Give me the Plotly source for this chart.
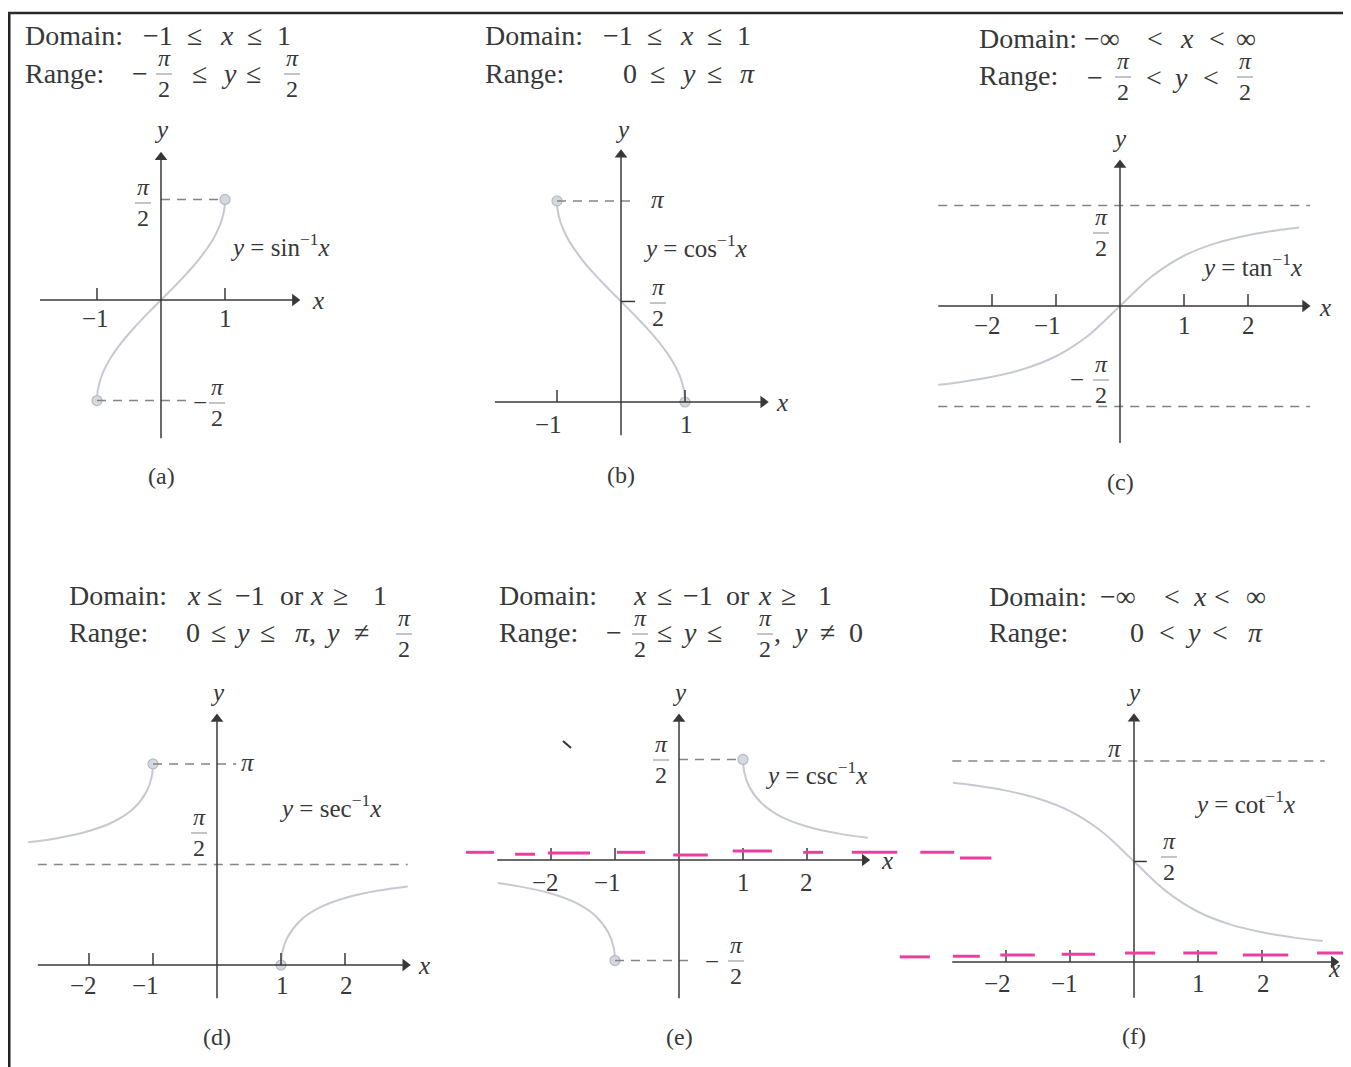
import plotly.graph_objects as go

W, H = 1351, 1067
OFF = 8    # page margin the browser puts round the figure
FW, FH = W - OFF, H - OFF
U = 64.0   # pixels per unit on every panel

# ---- curve samples ----
asin_x = [-1, -0.99, -0.95, -0.9, -0.8, -0.6, -0.4, -0.2, 0, 0.2, 0.4, 0.6, 0.8, 0.9, 0.95, 0.99, 1]
asin_y = [-1.571, -1.429, -1.253, -1.120, -0.927, -0.644, -0.412, -0.201, 0, 0.201, 0.412, 0.644, 0.927, 1.120, 1.253, 1.429, 1.571]

acos_x = [-1, -0.99, -0.95, -0.9, -0.8, -0.6, -0.4, -0.2, 0, 0.2, 0.4, 0.6, 0.8, 0.9, 0.95, 0.99, 1]
acos_y = [3.142, 3.0, 2.824, 2.691, 2.498, 2.214, 1.982, 1.772, 1.571, 1.369, 1.159, 0.927, 0.644, 0.451, 0.318, 0.142, 0]

atan_x = [-2.84, -2.5, -2, -1.5, -1, -0.5, 0, 0.5, 1, 1.5, 2, 2.5, 2.8]
atan_y = [-1.232, -1.190, -1.107, -0.983, -0.785, -0.464, 0, 0.464, 0.785, 0.983, 1.107, 1.190, 1.228]

asec_lx = [-2.95, -2.5, -2, -1.6, -1.3, -1.1, -1.02, -1]
asec_ly = [1.917, 1.982, 2.094, 2.246, 2.448, 2.711, 2.943, 3.142]
asec_rx = [1, 1.02, 1.1, 1.3, 1.6, 2, 2.5, 2.98]
asec_ry = [0, 0.199, 0.430, 0.693, 0.896, 1.047, 1.159, 1.228]

acsc_rx = [1, 1.02, 1.1, 1.3, 1.6, 2, 2.5, 2.95]
acsc_ry = [1.571, 1.372, 1.141, 0.878, 0.675, 0.524, 0.412, 0.346]
acsc_lx = [-2.83, -2.5, -2, -1.6, -1.3, -1.1, -1.02, -1]
acsc_ly = [-0.361, -0.412, -0.524, -0.675, -0.878, -1.141, -1.372, -1.571]

acot_x = [-2.83, -2.5, -2, -1.5, -1, -0.5, 0, 0.5, 1, 1.5, 2, 2.5, 2.95]
acot_y = [2.80, 2.761, 2.678, 2.554, 2.356, 2.034, 1.571, 1.107, 0.785, 0.588, 0.464, 0.381, 0.327]

# tick positions
ticks_a = [-1, 1]
ticks_b = [-1, 1]
ticks_c = [-2, -1, 1, 2]
ticks_d = [-2, -1, 1, 2]
ticks_e = [-2, -1, 1, 2]
ticks_f = [-2, -1, 1, 2]

# pink hand-drawn marks (panel e units, panel f units)
pink_e_x0 = [-3.33, -2.56, -2.05, -0.97, -0.09, 0.84, 1.94, 2.70, 3.77, 4.39]
pink_e_x1 = [-2.89, -2.25, -1.39, -0.53, 0.45, 1.45, 2.25, 3.41, 4.30, 4.88]
pink_e_y = [0.12, 0.09, 0.11, 0.12, 0.08, 0.14, 0.12, 0.12, 0.12, 0.03]
pink_f_x0 = [-3.66, -2.83, -2.09, -1.13, -0.14, 0.77, 1.70, 2.86]
pink_f_x1 = [-3.19, -2.41, -1.55, -0.61, 0.33, 1.30, 2.41, 3.39]
pink_f_y = [0.08, 0.09, 0.11, 0.12, 0.14, 0.14, 0.11, 0.14]

INK = "#383838"
CURVE = "#c6c9d0"
DASH = "#858585"
PINK = "#ec3ea0"
FONT = "Liberation Serif"

# panel origins in page pixels
origins = {"a": (161, 300), "b": (621, 402), "c": (1120, 306),
           "d": (217, 965), "e": (679, 860), "f": (1134, 962)}
names = ["a", "b", "c", "d", "e", "f"]

fig = go.Figure()
layout = dict(width=FW, height=FH, margin=dict(l=0, r=0, t=0, b=0),
              paper_bgcolor="white", plot_bgcolor="white", showlegend=False)
ax = {}
for k, n in enumerate(names, start=1):
    ox, oy = origins[n]
    sx = "" if k == 1 else str(k)
    xa = dict(range=[-(ox - OFF) / U, (W - ox) / U], visible=False, fixedrange=True,
              domain=[0, 1], anchor="y" + sx)
    ya = dict(range=[-(H - oy) / U, (oy - OFF) / U], visible=False, fixedrange=True,
              domain=[0, 1], anchor="x" + sx)
    if k > 1:
        xa["overlaying"] = "x"
        ya["overlaying"] = "y"
    layout["xaxis" + sx] = xa
    layout["yaxis" + sx] = ya
    ax[n] = ("x" + sx, "y" + sx)
fig.update_layout(**layout)

shapes = []
annotations = []


def PX(px):
    return (px - OFF) / FW


def PY(py):
    return 1 - (py - OFF) / FH


def curve(n, xs, ys):
    fig.add_trace(go.Scatter(x=xs, y=ys, mode="lines", line=dict(color=CURVE, width=2, shape="spline"),
                             xaxis=ax[n][0], yaxis=ax[n][1], hoverinfo="skip"))


def dots(n, xs, ys):
    fig.add_trace(go.Scatter(x=xs, y=ys, mode="markers",
                             marker=dict(size=10, color="#d5d8de", line=dict(color="#b6bac3", width=1.2)),
                             xaxis=ax[n][0], yaxis=ax[n][1], hoverinfo="skip"))


def seg(n, x0, y0, x1, y1, color=INK, width=1.6, dash=None):
    line = dict(color=color, width=width)
    if dash:
        line["dash"] = dash
    shapes.append(dict(type="line", xref=ax[n][0], yref=ax[n][1], x0=x0, y0=y0, x1=x1, y1=y1, line=line))


def axes(n, xlo, xhi, ylo, yhi, ticks):
    seg(n, xlo, 0, xhi - 4 / U, 0, width=1.5)
    seg(n, 0, ylo, 0, yhi - 4 / U, width=1.5)
    fig.add_trace(go.Scatter(x=[xhi - 5 / U, 0], y=[0, yhi - 5 / U], mode="markers",
                             marker=dict(symbol=["triangle-right", "triangle-up"], size=11, color=INK,
                                         line=dict(width=0)),
                             xaxis=ax[n][0], yaxis=ax[n][1], hoverinfo="skip"))
    for t in ticks:
        seg(n, t, 0, t, 12 / U, width=1.5)


def T(s, px, py, size=26, xanchor="center", color=INK):
    annotations.append(dict(xref="paper", yref="paper", x=PX(px), y=PY(py), text=s, showarrow=False,
                            xanchor=xanchor, yanchor="middle",
                            font=dict(family=FONT, size=size, color=color)))


def frac(px, py, size=24):
    # pi above, 2 below, with a short bar between
    T("<i>π</i>", px, py - 15, size)
    T("2", px, py + 16, size)
    shapes.append(dict(type="line", xref="paper", yref="paper", x0=PX(px - 8), x1=PX(px + 8),
                       y0=PY(py + 1), y1=PY(py + 1), line=dict(color="#8a8a8a", width=1)))


def row(tokens, py, size=28):
    for s, px in tokens:
        T(s, px, py, size)


DASHP = "9px,7px"
PI = 3.1416
HP = 1.5708

# ---------- (a) ----------
curve("a", asin_x, asin_y)
seg("a", 0, HP, 1, HP, DASH, 1.5, DASHP)
seg("a", -1, -HP, 0.45, -HP, DASH, 1.5, DASHP)
dots("a", [asin_x[0], asin_x[-1]], [asin_y[0], asin_y[-1]])
axes("a", -1.89, 2.17, -2.16, 2.31, ticks_a)

# ---------- (b) ----------
curve("b", acos_x, acos_y)
seg("b", -1, PI, 0.22, PI, DASH, 1.5, DASHP)
seg("b", 0, HP, 0.22, HP, INK, 1.5)
dots("b", [acos_x[0], acos_x[-1]], [acos_y[0], acos_y[-1]])
axes("b", -1.97, 2.30, -0.52, 3.94, ticks_b)

# ---------- (c) ----------
seg("c", -2.84, HP, 2.97, HP, DASH, 1.5, DASHP)
seg("c", -2.84, -HP, 2.97, -HP, DASH, 1.5, DASHP)
curve("c", atan_x, atan_y)
axes("c", -2.84, 2.97, -2.14, 2.28, ticks_c)

# ---------- (d) ----------
seg("d", -2.8, HP, 2.98, HP, DASH, 1.5, DASHP)
seg("d", -1, PI, 0.3, PI, DASH, 1.5, DASHP)
curve("d", asec_lx, asec_ly)
curve("d", asec_rx, asec_ry)
dots("d", [asec_lx[-1], asec_rx[0]], [asec_ly[-1], asec_ry[0]])
axes("d", -2.8, 3.02, -0.52, 3.92, ticks_d)

# ---------- (e) ----------
seg("e", 0, HP, 1, HP, DASH, 1.5, DASHP)
seg("e", -1, -HP, 0.2, -HP, DASH, 1.5, DASHP)
curve("e", acsc_rx, acsc_ry)
curve("e", acsc_lx, acsc_ly)
dots("e", [acsc_rx[0], acsc_lx[-1]], [acsc_ry[0], acsc_ly[-1]])
axes("e", -2.84, 2.98, -2.16, 2.28, ticks_e)
for x0, x1, y in zip(pink_e_x0, pink_e_x1, pink_e_y):
    seg("e", x0, y, x1, y, PINK, 3)

# ---------- (f) ----------
seg("f", -2.84, PI, 2.98, PI, DASH, 1.5, DASHP)
seg("f", 0, HP, 0.2, HP, INK, 1.5)
curve("f", acot_x, acot_y)
axes("f", -2.84, 3.2, -0.56, 3.88, ticks_f)
for x0, x1, y in zip(pink_f_x0, pink_f_x1, pink_f_y):
    seg("f", x0, y, x1, y, PINK, 3)

# ---------- headers ----------
T("Domain:", 23, 35, 28, "left")
row([("−1", 158), ("≤", 194), ("<i>x</i>", 227), ("≤", 254), ("1", 284)], 35)
T("Range:", 23, 73, 28, "left")
row([("−", 140), ("≤", 199), ("<i>y</i>", 229), ("≤", 253)], 74)
frac(164, 73)
frac(292, 73)

T("Domain:", 483, 35, 28, "left")
row([("−1", 618), ("≤", 654), ("<i>x</i>", 687), ("≤", 714), ("1", 744)], 35)
T("Range:", 483, 73, 28, "left")
row([("0", 630), ("≤", 657), ("<i>y</i>", 688), ("≤", 714), ("<i>π</i>", 748)], 73)

T("Domain:", 977, 38, 28, "left")
row([("−∞", 1102), ("<", 1155), ("<i>x</i>", 1187), ("<", 1217), ("∞", 1246)], 38)
T("Range:", 977, 76, 28, "left")
row([("−", 1095), ("<", 1154), ("<i>y</i>", 1180), ("<", 1211)], 77)
frac(1123, 76)
frac(1245, 76)

T("Domain:", 67, 595, 28, "left")
row([("<i>x</i>", 194), ("≤", 214), ("−1", 250), ("or", 292), ("<i>x</i>", 317), ("≥", 340), ("1", 380)], 595)
T("Range:", 67, 632, 28, "left")
row([("0", 193), ("≤", 218), ("<i>y</i>", 242), ("≤", 267), ("<i>π</i>,", 305), ("<i>y</i>", 332), ("≠", 361)], 632)
frac(404, 633)

T("Domain:", 497, 595, 28, "left")
row([("<i>x</i>", 640), ("≤", 664), ("−1", 698), ("or", 738), ("<i>x</i>", 765), ("≥", 788), ("1", 825)], 595)
T("Range:", 497, 632, 28, "left")
row([("−", 614), ("≤", 664), ("<i>y</i>", 689), ("≤", 714), (",", 777), ("<i>y</i>", 800), ("≠", 827), ("0", 856)], 632)
frac(640, 633)
frac(765, 633)

T("Domain:", 987, 596, 28, "left")
row([("−∞", 1118), ("<", 1172), ("<i>x</i>", 1200), ("<", 1222), ("∞", 1256)], 596)
T("Range:", 987, 632, 28, "left")
row([("0", 1137), ("<", 1167), ("<i>y</i>", 1193), ("<", 1220), ("<i>π</i>", 1255)], 632)

# ---------- in-panel labels ----------
LBL = 25
# (a)
T("<i>y</i>", 161, 130, LBL)
frac(143, 202)
T("<i>x</i>", 318, 300, LBL)
T("−1", 95, 318, LBL)
T("1", 225, 318, LBL)
T("−", 200, 403, LBL)
frac(217, 402)
T("<i>y</i> = sin<sup>−1</sup><i>x</i>", 228, 245, LBL, "left")
T("(a)", 161, 476, 24)
# (b)
T("<i>y</i>", 622, 130, LBL)
T("<i>π</i>", 658, 200, LBL)
T("<i>y</i> = cos<sup>−1</sup><i>x</i>", 641, 246, LBL, "left")
frac(658, 302)
T("<i>x</i>", 782, 402, LBL)
T("−1", 548, 425, LBL)
T("1", 686, 425, LBL)
T("(b)", 621, 475, 24)
# (c)
T("<i>y</i>", 1119, 138, LBL)
frac(1101, 232)
T("−", 1077, 379, LBL)
frac(1101, 379)
T("−2", 987, 326, LBL)
T("−1", 1047, 326, LBL)
T("1", 1184, 326, LBL)
T("2", 1248, 326, LBL)
T("<i>x</i>", 1325, 307, LBL)
T("<i>y</i> = tan<sup>−1</sup><i>x</i>", 1199, 265, LBL, "left")
T("(c)", 1120, 482, 24)
# (d)
T("<i>y</i>", 217, 692, LBL)
T("<i>π</i>", 248, 762, LBL)
frac(199, 832)
T("<i>y</i> = sec<sup>−1</sup><i>x</i>", 277, 806, LBL, "left")
T("−2", 83, 985, LBL)
T("−1", 145, 985, LBL)
T("1", 282, 985, LBL)
T("2", 346, 985, LBL)
T("<i>x</i>", 424, 965, LBL)
T("(d)", 217, 1037, 24)
# (e)
T("<i>y</i>", 679, 692, LBL)
frac(661, 759)
T("<i>y</i> = csc<sup>−1</sup><i>x</i>", 763, 773, LBL, "left")
T("−2", 545, 882, LBL)
T("−1", 607, 882, LBL)
T("1", 743, 882, LBL)
T("2", 807, 882, LBL)
T("<i>x</i>", 887, 860, LBL)
T("−", 712, 961, LBL)
frac(736, 960)
T("(e)", 679, 1037, 24)
# (f)
T("<i>y</i>", 1133, 692, LBL)
T("<i>π</i>", 1115, 748, LBL)
frac(1169, 856)
T("<i>y</i> = cot<sup>−1</sup><i>x</i>", 1192, 802, LBL, "left")
T("−2", 997, 983, LBL)
T("−1", 1064, 983, LBL)
T("1", 1198, 983, LBL)
T("2", 1263, 983, LBL)
T("<i>x</i>", 1334, 968, LBL)
T("(f)", 1134, 1036, 24)

# page frame and a small scan mark
shapes.append(dict(type="line", xref="paper", yref="paper", x0=PX(9), x1=PX(9), y0=0, y1=PY(13),
                   line=dict(color="#222", width=3)))
shapes.append(dict(type="line", xref="paper", yref="paper", x0=PX(8), x1=1, y0=PY(13), y1=PY(13),
                   line=dict(color="#2a2a2a", width=2.5)))
shapes.append(dict(type="line", xref="paper", yref="paper", x0=PX(563), x1=PX(571), y0=PY(741), y1=PY(748),
                   line=dict(color="#333", width=2)))

fig.update_layout(shapes=shapes, annotations=annotations)
fig.write_html("out.html")
